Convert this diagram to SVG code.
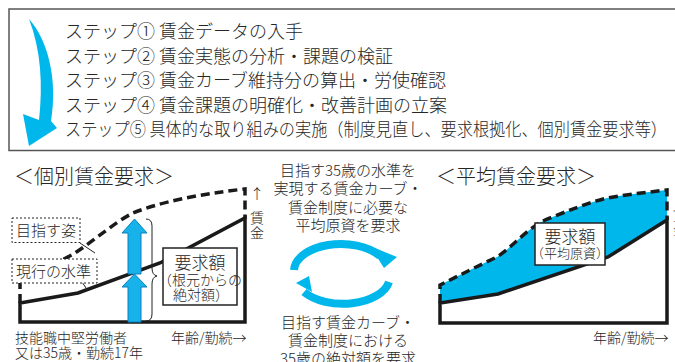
<svg xmlns="http://www.w3.org/2000/svg" width="675" height="362" viewBox="0 0 675 362">
<style>
text{font-family:"Noto Sans CJK JP","Noto Sans",sans-serif;fill:#262626;font-weight:300}
.step{font-size:18px}
.t15{font-size:15px}
.t14{font-size:14px}
.title{font-size:20px}
.axis{fill:none;stroke:#1a1a1a;stroke-width:3.5;stroke-linejoin:miter}
.dash{fill:none;stroke:#1a1a1a;stroke-width:3.5;stroke-dasharray:9,5}
.lbl{fill:#fff;stroke:#222;stroke-width:1;stroke-dasharray:2,2}
.box{fill:#fff;stroke:#222;stroke-width:1.5}
.cyan{fill:#00b7ec}
.mid{text-anchor:middle}
</style>
<g id="steps">
<rect x="9" y="9" width="700" height="141.5" fill="#fff" stroke="#555" stroke-width="1.5"/>
<path class="cyan" d="M29,19 C48,40 58,80 51,121 L57,128 L29,146 L23,114 L39,120 C43,85 41,50 29,19 Z"/>
<text class="step" x="65" y="38">ステップ① 賃金データの入手</text>
<text class="step" x="65" y="62.5">ステップ② 賃金実態の分析・課題の検証</text>
<text class="step" x="65" y="87">ステップ③ 賃金カーブ維持分の算出・労使確認</text>
<text class="step" x="65" y="111.5">ステップ④ 賃金課題の明確化・改善計画の立案</text>
<text class="step" x="65" y="136" textLength="602" lengthAdjust="spacingAndGlyphs">ステップ⑤ 具体的な取り組みの実施（制度見直し、要求根拠化、個別賃金要求等）</text>
</g>
<g id="left-chart">
<text class="title" x="14" y="184">＜個別賃金要求＞</text>
<path class="dash" d="M20,303 L20,282 C40,270 60,262 75,253 C95,240 115,222 133,213 C160,202 200,194 245,189 L245,219"/>
<path class="axis" d="M20,303 L20,322 L245,322 L245,218 L160,263 L78,293 Z"/>
<g id="up-arrows" fill="#18b2ea" stroke="#0a80c0" stroke-width="1">
<path d="M128,322 L128,287 L122,287 L134.5,274 L147,287 L141,287 L141,322 Z"/>
<path d="M128,274 L128,233 L122,233 L134.5,219 L147,233 L141,233 L141,274 Z"/>
</g>
<path d="M146,219 Q152,219 152,226 L152,268 Q152,275 157,276 Q152,277 152,284 L152,314 Q152,321 146,321" fill="none" stroke="#222" stroke-width="1"/>
<line x1="80" y1="243" x2="95" y2="253" stroke="#222" stroke-width="1"/>
<line x1="82" y1="282" x2="88" y2="291" stroke="#222" stroke-width="1"/>
<g id="label-goal"><rect class="lbl" x="12" y="218" width="68" height="24.5"/><text class="t15" x="16" y="236">目指す姿</text></g>
<g id="label-now"><rect class="lbl" x="12" y="259" width="85" height="24"/><text class="t15" x="16" y="277">現行の水準</text></g>
<g id="req-left"><rect class="box" x="163" y="248" width="74" height="57"/>
<text class="mid" x="200" y="269" font-size="17">要求額</text>
<text class="mid" x="200" y="285" font-size="14">（根元からの</text>
<text class="mid" x="201" y="300" font-size="14">絶対額）</text></g>
<text class="t14 mid" x="257" y="199">↑</text>
<text class="t14 mid" x="257" y="223">賃</text>
<text class="t14 mid" x="257" y="238">金</text>
<text class="t14" x="15" y="343">技能職中堅労働者</text>
<text class="t14" x="15" y="358">又は35歳・勤続17年</text>
<text class="t14" x="171" y="343">年齢/勤続→</text>
</g>
<g id="middle">
<text class="t15 mid" x="348" y="176">目指す35歳の水準を</text>
<text class="t15 mid" x="348" y="194">実現する賃金カーブ・</text>
<text class="t15 mid" x="348" y="213">賃金制度に必要な</text>
<text class="t15 mid" x="348" y="231">平均原資を要求</text>
<g id="cycle">
<path d="M294,270 A47,27 0 0 1 380,256" fill="none" stroke="#00b7ec" stroke-width="8"/>
<path class="cyan" d="M370,246 L397,257 L384,268 Z"/>
<path d="M389,282 A47,27 0 0 1 304,292" fill="none" stroke="#00b7ec" stroke-width="8"/>
<path class="cyan" d="M296,283 L309,276 L312,292 Z"/>
</g>
<text class="t15 mid" x="348" y="328">目指す賃金カーブ・</text>
<text class="t15 mid" x="348" y="346">賃金制度における</text>
<text class="t15 mid" x="348" y="364">35歳の絶対額を要求</text>
</g>
<g id="right-chart">
<text class="title" x="436" y="184">＜平均賃金要求＞</text>
<path class="cyan" d="M440,303 L440,285 C460,275 480,265 497,257 C515,245 530,225 550,218 C570,210 590,202 607,198 C630,194 650,192 667,190 L667,220 L608,257 L498,294 Z"/>
<path class="dash" d="M440,303 L440,285 C460,275 480,265 497,257 C515,245 530,225 550,218 C570,210 590,202 607,198 C630,194 650,192 667,190 L667,220"/>
<path class="axis" d="M440,303 L440,323 L667,323 L667,220 L608,257 L498,294 Z"/>
<g id="req-right"><rect class="box" x="535" y="223" width="70" height="42"/>
<text class="mid" x="570" y="243" font-size="17">要求額</text>
<text class="mid" x="570" y="258" font-size="13">（平均原資）</text></g>
<text class="t14 mid" x="680" y="199">↑</text>
<text class="t14 mid" x="680" y="220">賃</text>
<text class="t14 mid" x="680" y="235">金</text>
<text class="t14" x="593" y="343">年齢/勤続→</text>
</g>
</svg>
